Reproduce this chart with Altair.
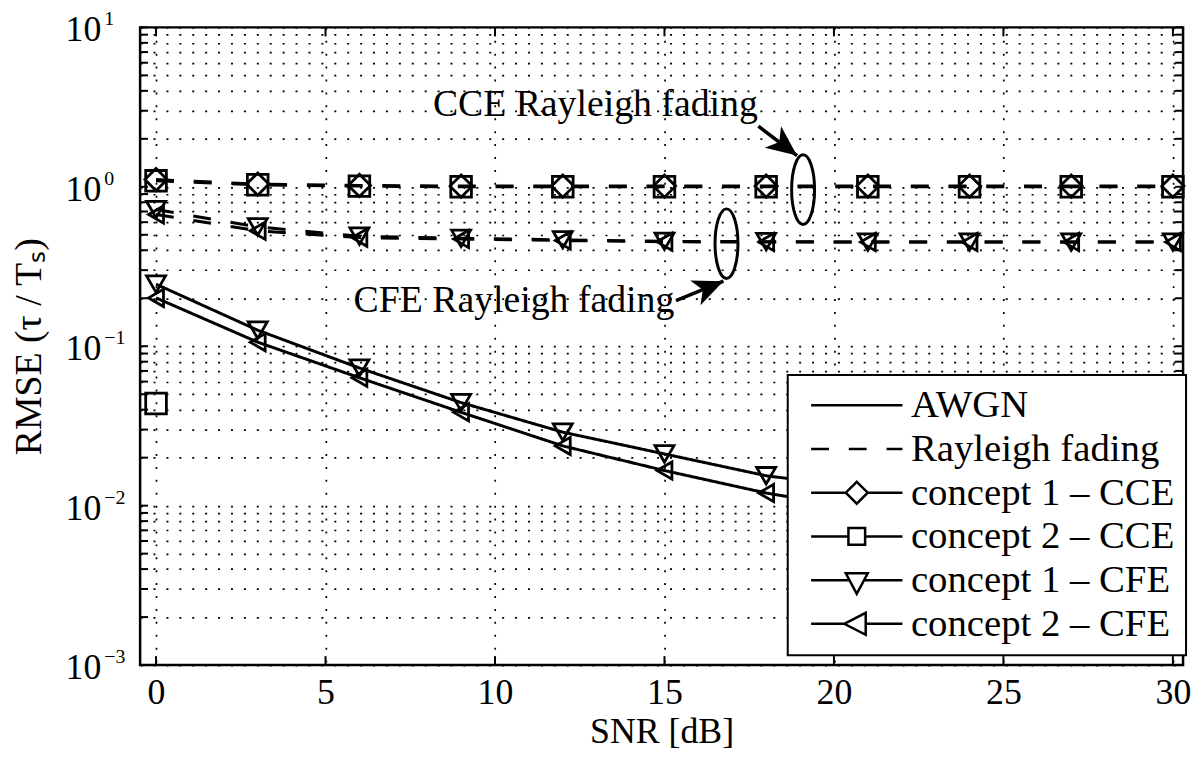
import altair as alt
import pandas as pd

FONT = "Liberation Serif"

# ---------------- data ----------------
snr = [0, 3, 6, 9, 12, 15, 18, 21, 24, 27, 30]

awgn_c1_cfe = [0.245, 0.126, 0.073, 0.0443, 0.0289, 0.0211, 0.0154, 0.0128, 0.0111, 0.0100, 0.0092]
awgn_c2_cfe = [0.201, 0.106, 0.0634, 0.0385, 0.0237, 0.0166, 0.0120, 0.0094, 0.0077, 0.0066, 0.0057]
awgn_c2_cce_snr = [0]
awgn_c2_cce = [0.0437]

ray_c1_cce = [1.11, 1.04, 1.02, 1.01, 1.01, 1.01, 1.01, 1.01, 1.01, 1.01, 1.01]
ray_c2_cce = [1.09, 1.03, 1.01, 1.0, 1.0, 1.0, 1.0, 1.0, 1.0, 1.0, 1.0]
ray_c1_cfe = [0.72, 0.56, 0.49, 0.475, 0.465, 0.455, 0.453, 0.45, 0.45, 0.45, 0.45]
ray_c2_cfe = [0.67, 0.53, 0.48, 0.47, 0.46, 0.452, 0.45, 0.45, 0.45, 0.45, 0.45]

x_ticks = [0, 5, 10, 15, 20, 25, 30]
y_majors = [10, 1, 0.1, 0.01, 0.001]
y_exponents = ["1", "0", "\u22121", "\u22122", "\u22123"]
y_grid = [m * 10.0 ** e for e in range(-3, 1) for m in range(1, 10)] + [10.0]

legend_labels = ["AWGN", "Rayleigh fading", "concept 1 \u2013 CCE",
                 "concept 2 \u2013 CCE", "concept 1 \u2013 CFE", "concept 2 \u2013 CFE"]

ann_text = ["CCE Rayleigh fading", "CFE Rayleigh fading"]
ann_x = [12.96, 10.56]
ann_y = [3.24, 0.193]
ellipse_x = [19.09, 16.83]
ellipse_y = [0.96, 0.44]
arrow_x = [17.77, 15.34]
arrow_y = [2.40, 0.193]
arrow_x2 = [18.91, 16.74]
arrow_y2 = [1.57, 0.256]
arrow_angle = [127.6, 67.4]

# ---------------- tables ----------------
series = [
    ("awgn_c1_cfe", "AWGN", "c1cfe", snr, awgn_c1_cfe),
    ("awgn_c2_cfe", "AWGN", "c2cfe", snr, awgn_c2_cfe),
    ("awgn_c2_cce", "AWGN", "c2cce", awgn_c2_cce_snr, awgn_c2_cce),
    ("ray_c1_cce", "Rayleigh", "c1cce", snr, ray_c1_cce),
    ("ray_c2_cce", "Rayleigh", "c2cce", snr, ray_c2_cce),
    ("ray_c1_cfe", "Rayleigh", "c1cfe", snr, ray_c1_cfe),
    ("ray_c2_cfe", "Rayleigh", "c2cfe", snr, ray_c2_cfe),
]
rows = []
for name, chan, marker, xs, ys in series:
    for xv, yv in zip(xs, ys):
        rows.append({"series": name, "channel": chan, "marker": marker, "snr": xv, "rmse": yv})
df = pd.DataFrame(rows)

W, H = 1050, 642

xscale = alt.Scale(domain=[-0.47, 30.3], nice=False, zero=False)
yscale = alt.Scale(type="log", domain=[0.001, 10], nice=False)

x_axis = alt.Axis(values=x_ticks, title="SNR [dB]", labelFont=FONT, labelFontSize=36,
                  labelColor="black", labelPadding=11, ticks=False, domain=False,
                  grid=True, gridDash=[2, 11], gridColor="black", gridWidth=1.7, gridOpacity=1,
                  titleFont=FONT, titleFontSize=36, titleFontWeight="normal", titleColor="black",
                  titlePadding=4, labelFlush=False)
y_axis = alt.Axis(values=y_grid, title="RMSE (\u03c4 / T\u209b)", labels=False, ticks=False,
                  domain=False, grid=True, gridDash=[2, 11], gridColor="black", gridWidth=1.7,
                  gridOpacity=1, titleFont=FONT, titleFontSize=38, titleFontWeight="normal",
                  titleColor="black", titlePadding=92)

X = alt.X("snr:Q", scale=xscale, axis=x_axis)
Y = alt.Y("rmse:Q", scale=yscale, axis=y_axis)

lines = alt.Chart(df).mark_line(color="black", strokeWidth=3).encode(
    x=X, y=Y, detail="series:N",
    strokeDash=alt.StrokeDash("channel:N", scale=alt.Scale(domain=["AWGN", "Rayleigh"],
                                                           range=[[1, 0], [18, 20]]), legend=None),
)

marker_domain = ["c1cce", "c2cce", "c1cfe", "c2cfe"]
points = alt.Chart(df).mark_point(filled=False, color="black", strokeWidth=2.8, opacity=1).encode(
    x=X, y=Y,
    shape=alt.Shape("marker:N", scale=alt.Scale(domain=marker_domain,
                    range=["diamond", "square", "triangle-down", "triangle-left"]), legend=None),
    size=alt.Size("marker:N", scale=alt.Scale(domain=marker_domain, range=[500, 300, 580, 580]),
                  legend=None),
)

# y tick labels 10^n
lab_df = pd.DataFrame({"rmse": y_majors, "exp": y_exponents})
lab_base = alt.Chart(lab_df).mark_text(text="10", font=FONT, fontSize=36, align="right",
                                       baseline="alphabetic", dy=14, color="black").encode(
    x=alt.value(-39), y=Y)
lab_exp = alt.Chart(lab_df).mark_text(font=FONT, fontSize=20, align="left",
                                      baseline="alphabetic", dy=-2, color="black").encode(
    x=alt.value(-36), y=Y, text="exp:N")

# inward ticks on all four sides
xt_df = pd.DataFrame({"snr": x_ticks})
yt_df = pd.DataFrame({"rmse": y_grid})
tick_b = alt.Chart(xt_df).mark_rule(color="black", strokeWidth=2).encode(
    x=X, y=alt.value(H), y2=alt.value(H - 9))
tick_t = alt.Chart(xt_df).mark_rule(color="black", strokeWidth=2).encode(
    x=X, y=alt.value(0), y2=alt.value(9))
tick_l = alt.Chart(yt_df).mark_rule(color="black", strokeWidth=2).encode(
    y=Y, x=alt.value(0), x2=alt.value(8))
tick_r = alt.Chart(yt_df).mark_rule(color="black", strokeWidth=2).encode(
    y=Y, x=alt.value(W), x2=alt.value(W - 8))

# annotations
ann_df = pd.DataFrame({"snr": ann_x, "rmse": ann_y, "label": ann_text})
ann = alt.Chart(ann_df).mark_text(font=FONT, fontSize=38, align="center", baseline="middle",
                                  color="black").encode(x=X, y=Y, text="label:N")

ell_df = pd.DataFrame({"snr": ellipse_x, "rmse": ellipse_y})
ellipse_path = "M0,-1A0.33,1,0,1,1,0,1A0.33,1,0,1,1,0,-1Z"
ell = alt.Chart(ell_df).mark_point(shape=ellipse_path, size=4900, filled=False, color="black",
                                   strokeWidth=3, opacity=1).encode(x=X, y=Y)

arr_df = pd.DataFrame({"snr": arrow_x, "rmse": arrow_y, "snr2": arrow_x2, "rmse2": arrow_y2,
                       "angle": arrow_angle})
shaft = alt.Chart(arr_df).mark_rule(color="black", strokeWidth=3.5).encode(
    x=X, y=Y, x2="snr2:Q", y2="rmse2:Q")
head_path = "M0,0L0.75,1.7L0,1.25L-0.75,1.7Z"
head_df = pd.DataFrame({"snr": arrow_x2, "rmse": arrow_y2, "angle": arrow_angle})
head = alt.Chart(head_df).mark_point(shape=head_path, size=1300, filled=True, color="black",
                                     opacity=1).encode(
    x=X, y=Y, angle=alt.Angle("angle:Q", scale=None))

# legend (line + marker samples)
legend_paths = [
    "M-3.83,0H3.83",
    "M-3.83,0H-2.33M-0.67,0H0.83M2.5,0H3.83",
    "M-3.83,0H-0.92M0.92,0H3.83M0,-0.92L0.92,0L0,0.92L-0.92,0Z",
    "M-3.83,0H-0.7M0.7,0H3.83M-0.7,-0.7H0.7V0.7H-0.7Z",
    "M-3.83,0H-0.6M0.6,0H3.83M-0.92,-0.58H0.92L0,1.15Z",
    "M-3.83,0H-1.05M0.75,0H3.83M-1.05,0L0.75,-0.92V0.92Z",
]
leg_df = pd.DataFrame({"entry": legend_labels})
leg = alt.Chart(leg_df).mark_point(filled=False, color="black", opacity=0).encode(
    shape=alt.Shape("entry:N", scale=alt.Scale(domain=legend_labels, range=legend_paths),
                    legend=alt.Legend(title=None, orient="none", legendX=652, legendY=350,
                                      padding=11, rowPadding=4, symbolSize=576,
                                      symbolOffset=39, labelOffset=35, symbolStrokeWidth=2.5,
                                      symbolStrokeColor="black", symbolFillColor="transparent",
                                      symbolOpacity=1, labelFont=FONT, labelFontSize=39,
                                      labelColor="black", labelLimit=600,
                                      strokeColor="black", fillColor="white")))

chart = alt.layer(lines, points, lab_base, lab_exp, tick_b, tick_t, tick_l, tick_r,
                  ann, ell, shaft, head, leg).resolve_scale(
    shape="independent", size="independent", strokeDash="independent"
).properties(
    width=W, height=H,
    autosize=alt.AutoSizeParams(type="none"),
    padding={"left": 133, "top": 17, "right": 9, "bottom": 83},
).configure_view(stroke="black", strokeWidth=2.5).configure_legend(strokeWidth=2)

chart.save("out.html", embed_options={"renderer": "svg", "actions": False})
